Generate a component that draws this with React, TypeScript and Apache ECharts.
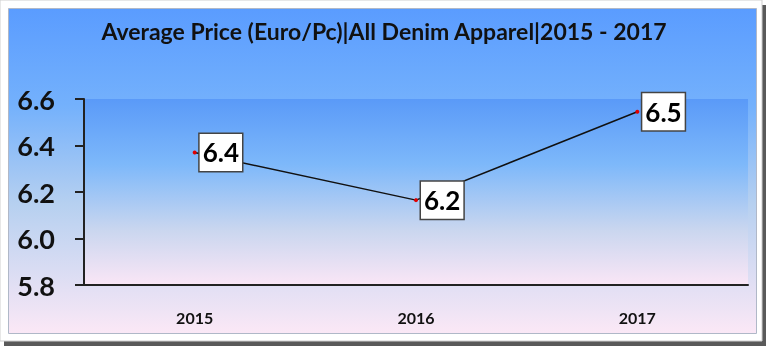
import React, { useEffect, useRef } from "react";
import * as echarts from "echarts";

const categories = ["2015", "2016", "2017"];
const prices = [6.37, 6.165, 6.545];
const priceLabels = ["6.4", "6.2", "6.5"];
const yMin = 5.8;
const yMax = 6.6;
const yStep = 0.2;
const titleText = "Average Price (Euro/Pc)|All Denim Apparel|2015 - 2017";

const FONT = "Lato, 'Open Sans', sans-serif";

export default function App() {
  const ref = useRef<HTMLDivElement>(null);
  useEffect(() => {
    if (!ref.current) return;
    const chart = echarts.init(ref.current, undefined, { renderer: "svg" });
    const grad = (stops: [number, string][]) =>
      new echarts.graphic.LinearGradient(
        0, 0, 0, 1,
        stops.map(([offset, color]) => ({ offset, color }))
      );
    chart.setOption({
      animation: false,
      graphic: [
        { type: "rect", z: -30, shape: { x: 4, y: 5, width: 762, height: 341 }, style: { fill: "#5a5a5a" } },
        { type: "rect", z: -20, shape: { x: 0, y: 0, width: 762, height: 341 }, style: { fill: "#ffffff", stroke: "#cfcfcf", lineWidth: 1 } },
        {
          type: "rect", z: -10,
          shape: { x: 8.5, y: 8.5, width: 748, height: 325 },
          style: {
            fill: grad([[0, "#5a9cff"], [0.3, "#74b1fc"], [0.6, "#b6d0f0"], [1, "#fbe8f6"]]),
            stroke: "#b0b8c8", lineWidth: 1,
          },
        },
      ],
      title: {
        text: titleText,
        left: "center",
        top: 14,
        textStyle: { fontFamily: FONT, fontSize: 23, fontWeight: "bold", color: "#111" },
      },
      grid: {
        left: 84, right: 20, top: 99, bottom: 62,
        show: true, borderWidth: 0,
        backgroundColor: grad([[0, "#5a9af8"], [0.35, "#7db8fa"], [0.7, "#c9d6ef"], [1, "#fae6f6"]]),
      },
      xAxis: {
        type: "category",
        data: categories,
        boundaryGap: true,
        axisLine: { show: true, lineStyle: { color: "#222", width: 2 } },
        axisTick: { show: false },
        axisLabel: { margin: 24, fontFamily: FONT, fontSize: 16, fontWeight: "bold", color: "#111" },
        splitLine: { show: false },
      },
      yAxis: {
        type: "value",
        min: yMin, max: yMax, interval: yStep,
        axisLine: { show: true, lineStyle: { color: "#222", width: 2 } },
        axisTick: { show: true, length: 9, lineStyle: { color: "#222", width: 2 } },
        axisLabel: {
          margin: 29, fontFamily: FONT, fontSize: 27, fontWeight: "bold", color: "#111",
          formatter: (v: number) => v.toFixed(1),
        },
        splitLine: { show: false },
      },
      series: [
        {
          type: "line",
          data: prices,
          symbol: "circle",
          symbolSize: 4,
          itemStyle: { color: "#e00000" },
          lineStyle: { color: "#111", width: 1.5 },
          label: {
            show: true,
            position: "right",
            distance: 3,
            formatter: (p: any) => priceLabels[p.dataIndex],
            fontFamily: FONT, fontSize: 26, fontWeight: "bold", color: "#000",
            backgroundColor: "#ffffff",
            borderColor: "#444", borderWidth: 1.5,
            lineHeight: 28,
            padding: [5, 3, 4, 3],
          },
        },
      ],
    });
    return () => chart.dispose();
  }, []);
  return (
    <div
      ref={ref}
      style={{ position: "fixed", left: 0, top: 0, width: 768, height: 347 }}
    />
  );
}
